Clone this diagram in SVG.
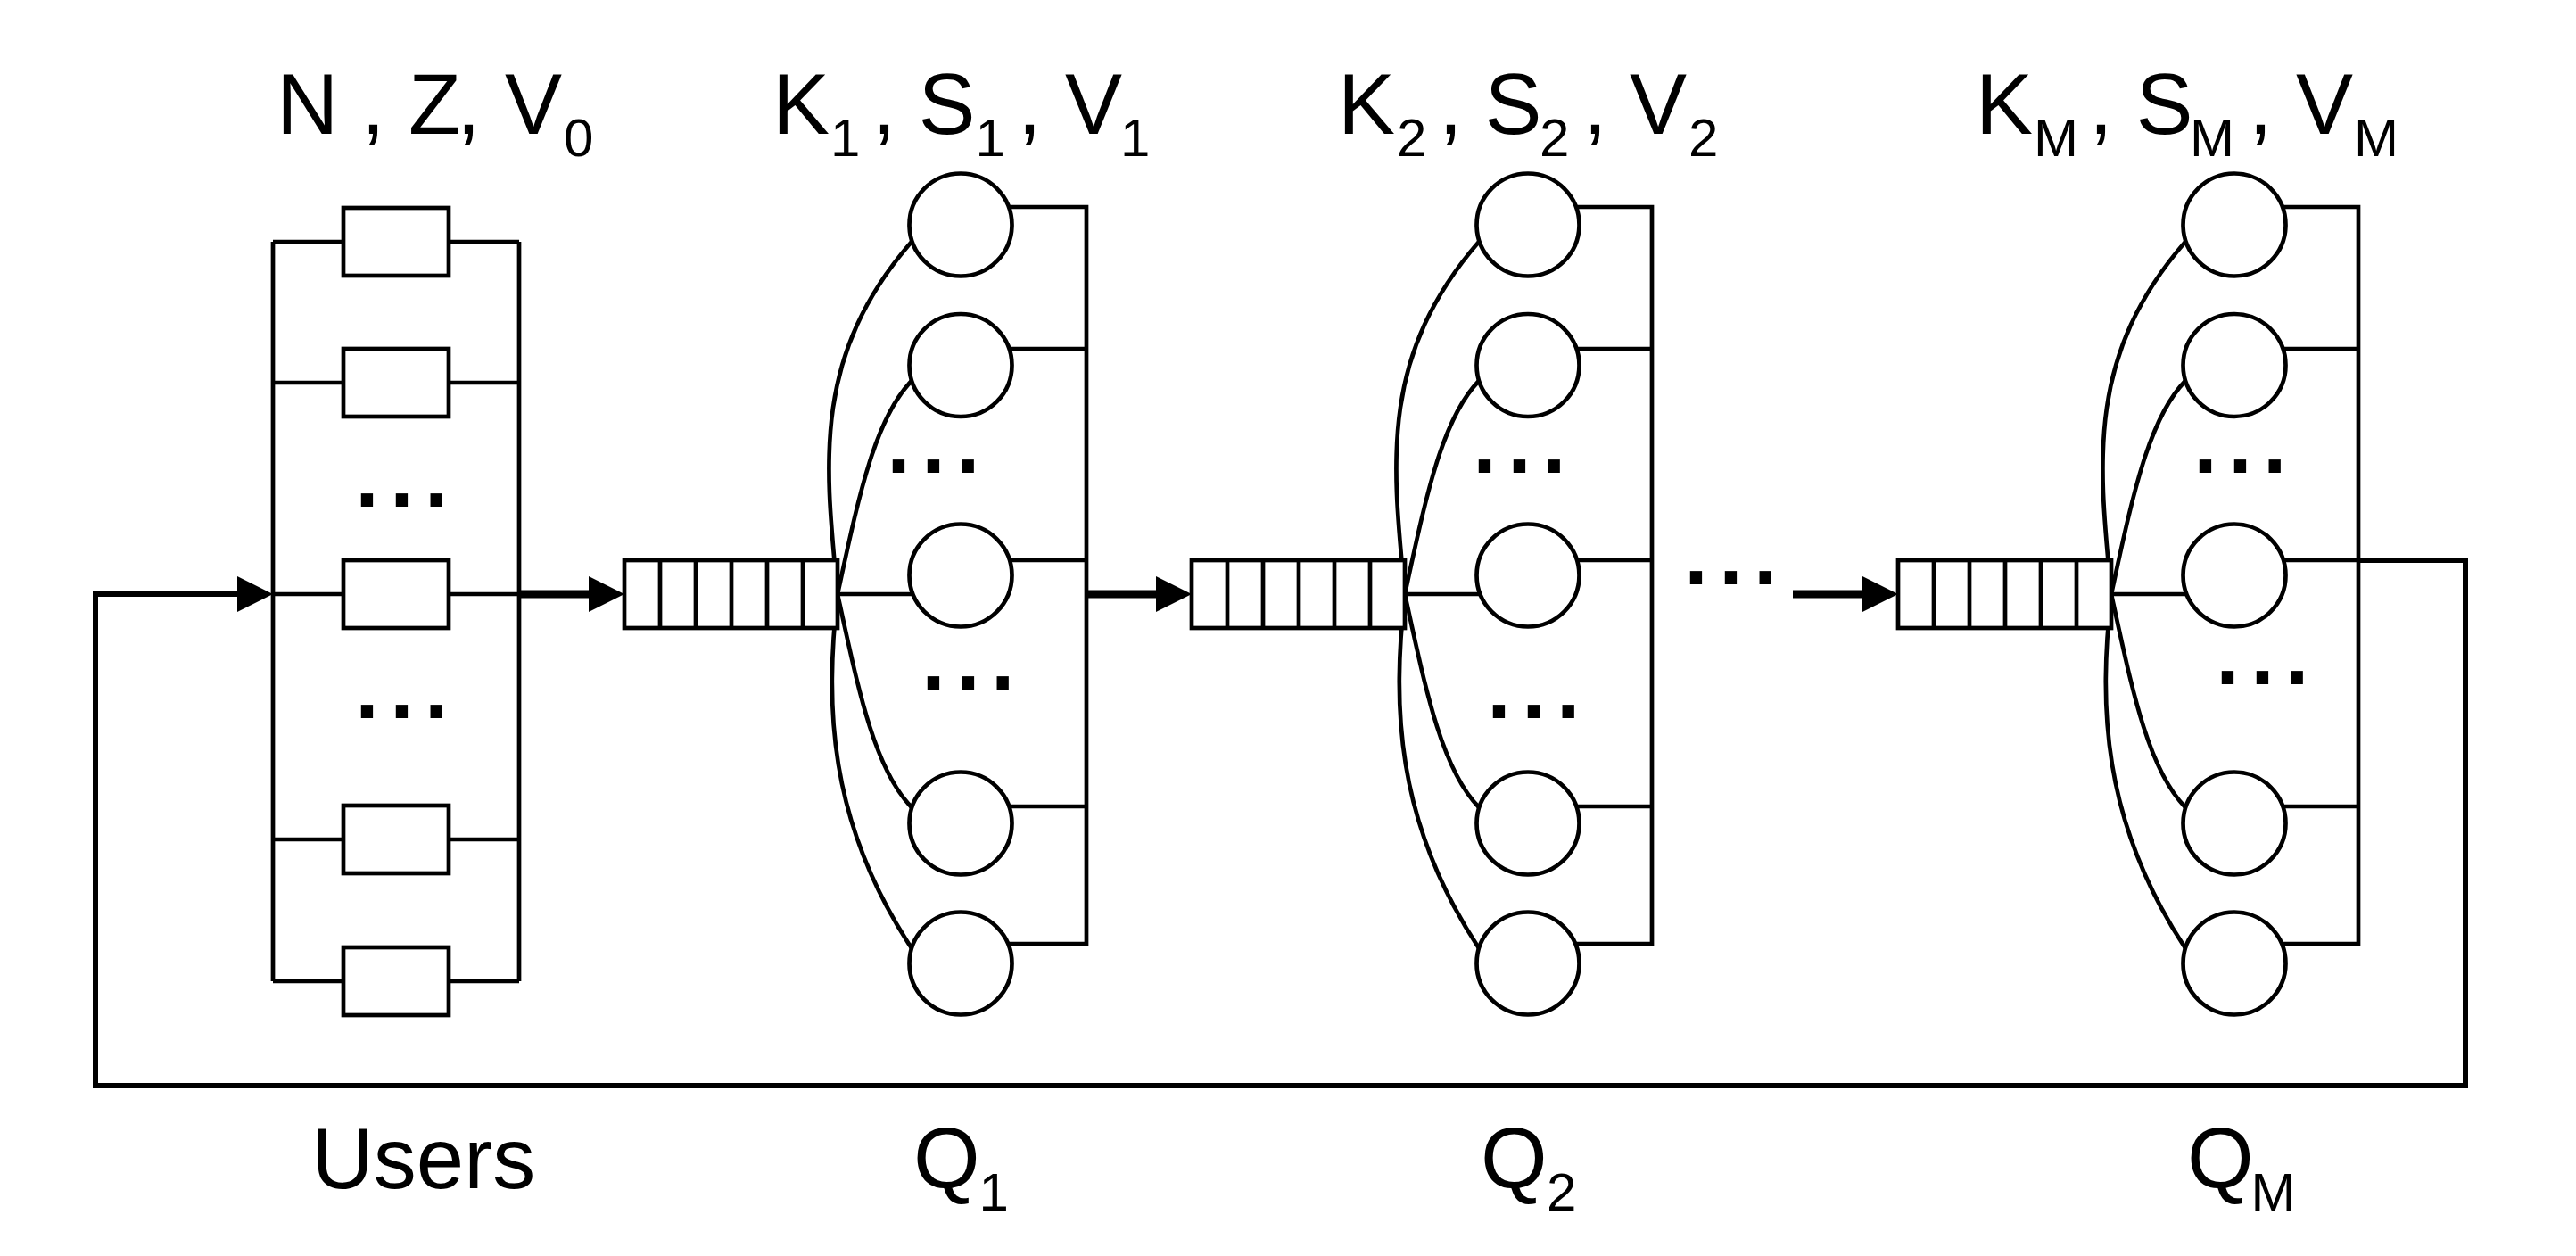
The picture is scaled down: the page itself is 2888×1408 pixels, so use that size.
<svg xmlns="http://www.w3.org/2000/svg" width="2888" height="1408" viewBox="0 0 2888 1408">
<style>
.ln{stroke:#000;stroke-width:4.7;fill:none}
.fb{stroke:#000;stroke-width:6;fill:none;stroke-linejoin:miter}
.ar{stroke:#000;stroke-width:9;fill:none}
.box{fill:#fff;stroke:#000;stroke-width:4.7}
.t{font-family:"Liberation Sans",Arial,Helvetica,sans-serif;font-size:96px;fill:#000}
.s{font-size:60px}
.d{font-family:"Liberation Sans",Arial,Helvetica,sans-serif;font-size:140px;fill:#000}
</style>
<defs>
<marker id="ah" markerUnits="userSpaceOnUse" markerWidth="40" markerHeight="40" viewBox="0 0 40 40" refX="0" refY="20" orient="auto">
<path d="M0,0 L40,20 L0,40 Z" fill="#000"/>
</marker>
<g id="fan">
<path class="ln" d="M239,666 H330"/>
<path class="ln" d="M239,666 C225,520 210,400 322,271"/>
<path class="ln" d="M239,666 C262,560 280,470 322,427"/>
<path class="ln" d="M239,666 C262,772 280,862 322,905"/>
<path class="ln" d="M239,666 C225,790 228,920 322,1063"/>
</g>
<g id="coll">
<path class="ln" d="M420,232 H516 V1058 H420"/>
<path class="ln" d="M420,391 H516"/>
<path class="ln" d="M420,628 H516"/>
<path class="ln" d="M420,904 H516"/>
</g>
</defs>

<g id="connectors">
<use href="#fan" transform="translate(700,0)"/>
<use href="#fan" transform="translate(1336,0)"/>
<use href="#fan" transform="translate(2128,0)"/>
<use href="#coll" transform="translate(702,0)"/>
<use href="#coll" transform="translate(1336,0)"/>
<use href="#coll" transform="translate(2128,0)"/>
<path class="ar" d="M582,666 H660" marker-end="url(#ah)"/>
<path class="ar" d="M1218,666 H1296" marker-end="url(#ah)"/>
<path class="ar" d="M2010,666 H2088" marker-end="url(#ah)"/>
<path class="fb" d="M2644,628 H2764 V1217 H107 V666 H266" marker-end="url(#ah)"/>
</g>

<g id="users">
<path class="ln" d="M306,271 V1100 M582,271 V1100 M306,271 H582 M306,429 H582 M306,666 H582 M306,941 H582 M306,1100 H582"/>
<rect class="box" x="385" y="233" width="118" height="76"/>
<rect class="box" x="385" y="391" width="118" height="76"/>
<rect class="box" x="385" y="628" width="118" height="76"/>
<rect class="box" x="385" y="903" width="118" height="76"/>
<rect class="box" x="385" y="1062" width="118" height="76"/>
<text class="d" x="392" y="568">...</text>
<text class="d" x="392" y="805">...</text>
<text class="t"><tspan x="310" y="150">N</tspan><tspan x="405" y="150">,</tspan><tspan x="458" y="150">Z</tspan><tspan x="512" y="150">,</tspan><tspan x="566" y="150">V</tspan><tspan class="s" x="632" y="175">0</tspan></text>
<text class="t" x="349.5" y="1332">Users</text>
</g>

<g id="q1">
<rect class="box" x="700" y="628" width="239" height="76"/>
<path class="ln" d="M740,628 V704 M780,628 V704 M820,628 V704 M860,628 V704 M900,628 V704"/>
<circle class="box" cx="1077" cy="252" r="57.5"/>
<circle class="box" cx="1077" cy="409.5" r="57.5"/>
<circle class="box" cx="1077" cy="645" r="57.5"/>
<circle class="box" cx="1077" cy="923" r="57.5"/>
<circle class="box" cx="1077" cy="1080" r="57.5"/>
<text class="d" x="988" y="530">...</text>
<text class="d" x="1027" y="773">...</text>
<text class="t"><tspan x="866" y="150">K</tspan><tspan class="s" x="931" y="175">1</tspan><tspan x="978" y="150">,</tspan><tspan x="1029.6" y="150">S</tspan><tspan class="s" x="1093.5" y="175">1</tspan><tspan x="1141" y="150">,</tspan><tspan x="1194" y="150">V</tspan><tspan class="s" x="1256" y="175">1</tspan></text>
<text class="t"><tspan x="1024" y="1332">Q</tspan><tspan class="s" x="1097.5" y="1357">1</tspan></text>
</g>

<g id="q2">
<rect class="box" x="1336" y="628" width="239" height="76"/>
<path class="ln" d="M1376,628 V704 M1416,628 V704 M1456,628 V704 M1496,628 V704 M1536,628 V704"/>
<circle class="box" cx="1713" cy="252" r="57.5"/>
<circle class="box" cx="1713" cy="409.5" r="57.5"/>
<circle class="box" cx="1713" cy="645" r="57.5"/>
<circle class="box" cx="1713" cy="923" r="57.5"/>
<circle class="box" cx="1713" cy="1080" r="57.5"/>
<text class="d" x="1645" y="530">...</text>
<text class="d" x="1661" y="805">...</text>
<text class="t"><tspan x="1500" y="150">K</tspan><tspan class="s" x="1566" y="175">2</tspan><tspan x="1613" y="150">,</tspan><tspan x="1664.6" y="150">S</tspan><tspan class="s" x="1726" y="175">2</tspan><tspan x="1775" y="150">,</tspan><tspan x="1827" y="150">V</tspan><tspan class="s" x="1893" y="175">2</tspan></text>
<text class="t"><tspan x="1659.9" y="1332">Q</tspan><tspan class="s" x="1734" y="1357">2</tspan></text>
</g>

<g id="between">
<text class="d" x="1882" y="655">...</text>
</g>

<g id="qm">
<rect class="box" x="2128" y="628" width="239" height="76"/>
<path class="ln" d="M2168,628 V704 M2208,628 V704 M2248,628 V704 M2288,628 V704 M2328,628 V704"/>
<circle class="box" cx="2505" cy="252" r="57.5"/>
<circle class="box" cx="2505" cy="409.5" r="57.5"/>
<circle class="box" cx="2505" cy="645" r="57.5"/>
<circle class="box" cx="2505" cy="923" r="57.5"/>
<circle class="box" cx="2505" cy="1080" r="57.5"/>
<text class="d" x="2453" y="530">...</text>
<text class="d" x="2478" y="767">...</text>
<text class="t"><tspan x="2215" y="150">K</tspan><tspan class="s" x="2280" y="175">M</tspan><tspan x="2342" y="150">,</tspan><tspan x="2394.6" y="150">S</tspan><tspan class="s" x="2455" y="175">M</tspan><tspan x="2521" y="150">,</tspan><tspan x="2574" y="150">V</tspan><tspan class="s" x="2639" y="175">M</tspan></text>
<text class="t"><tspan x="2452" y="1332">Q</tspan><tspan class="s" x="2523.5" y="1357">M</tspan></text>
</g>
</svg>
